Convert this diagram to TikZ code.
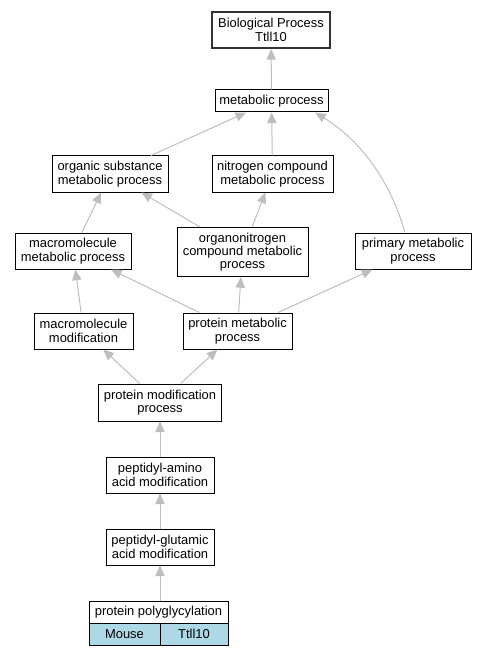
\documentclass[tikz,border=0pt]{standalone}
\usepackage{fontspec}
\setmainfont{Liberation Sans}
\usetikzlibrary{arrows.meta}
\definecolor{edgegray}{HTML}{BEBEBE}
\definecolor{lblue}{HTML}{ADD8E6}
\tikzset{
  box/.style={draw=black, line width=0.75pt, fill=white, inner sep=0pt, align=center,
    font=\fontsize{9.7pt}{10pt}\selectfont},
  wh/.style 2 args={minimum width=#1*0.75pt, minimum height=#2*0.75pt},
  rootbox/.style={box, draw=black!80, line width=1.5pt},
  isa/.style={draw=edgegray, line width=0.75pt, -{Triangle[length=8pt,width=7pt]}},
}
\begin{document}
\begin{tikzpicture}[x=0.75pt,y=-0.75pt]
\useasboundingbox (0,0) rectangle (483,656);
\node[rootbox, wh={118}{36}] (bp) at (271,30) {Biological Process\\Ttll10};
\node[box, wh={113}{22}] (met) at (271.5,101) {metabolic process};
\node[box, wh={116}{36}] (org) at (110,174) {organic substance\\metabolic process};
\node[box, wh={121}{36}] (nit) at (272.5,174) {nitrogen compound\\metabolic process};
\node[box, wh={116}{36}] (macmet) at (73,251) {macromolecule\\metabolic process};
\node[box, wh={131}{49}] (orgn) at (242.5,252) {organonitrogen\\compound metabolic\\process};
\node[box, wh={116}{36}] (prim) at (413,251) {primary metabolic\\process};
\node[box, wh={99}{36}] (macmod) at (83.5,331) {macromolecule\\modification};
\node[box, wh={109}{36}] (protmet) at (237.5,331) {protein metabolic\\process};
\node[box, wh={123}{37}] (protmod) at (160,402.5) {protein modification\\process};
\node[box, wh={108}{36}] (pepam) at (160,475) {peptidyl-amino\\acid modification};
\node[box, wh={108}{36}] (pepglu) at (160,547) {peptidyl-glutamic\\acid modification};
\node[box, wh={139}{22}] (poly) at (158.5,612) {protein polyglycylation};
\node[box, fill=lblue, wh={71}{22}] (mouse) at (124.5,634) {Mouse};
\node[box, fill=lblue, wh={68}{22}] (gene) at (194,634) {Ttll10};

\coordinate (pstart) at ([xshift=-6pt]prim.north);
\coordinate (pend) at ([xshift=-10pt]met.south east);

\draw[isa] (met) -- (bp);
\draw[isa] (org) -- (met);
\draw[isa] (nit) -- (met);
\draw[isa] (pstart) .. controls (390,180) and (360,140) .. (pend);
\draw[isa] (macmet) -- (org);
\draw[isa] (orgn) -- (org);
\draw[isa] (orgn) -- (nit);
\draw[isa] (macmod) -- (macmet);
\draw[isa] (protmet) -- (macmet);
\draw[isa] (protmet) -- (orgn);
\draw[isa] (protmet) -- (prim);
\draw[isa] (protmod) -- (macmod);
\draw[isa] (protmod) -- (protmet);
\draw[isa] (pepam) -- (protmod);
\draw[isa] (pepglu) -- (pepam);
\draw[isa] (poly.north -| pepglu) -- (pepglu);
\end{tikzpicture}
\end{document}
